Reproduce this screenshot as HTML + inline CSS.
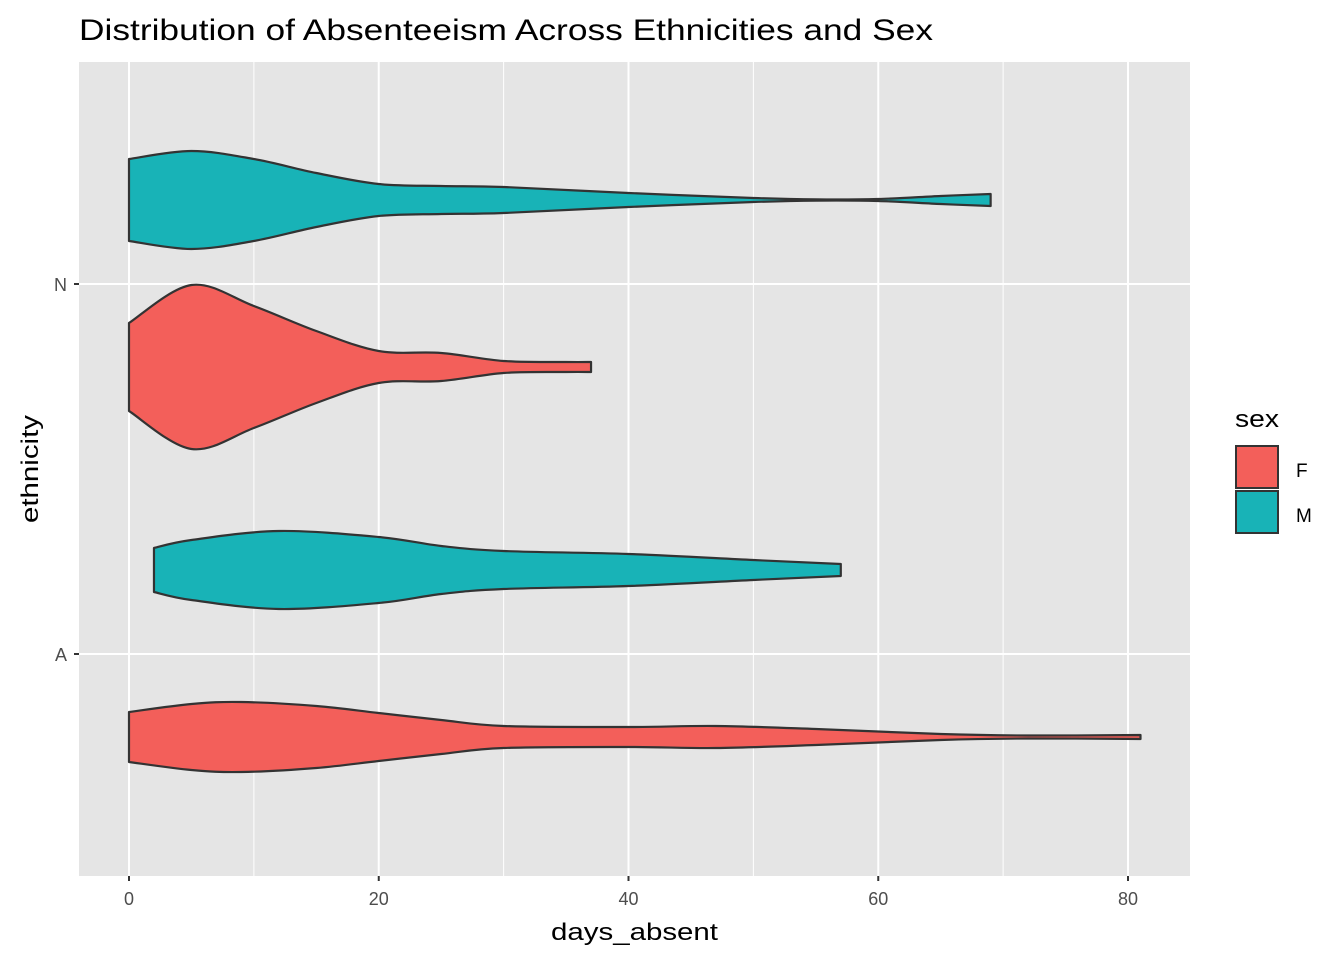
<!DOCTYPE html>
<html><head><meta charset="utf-8"><style>
body{margin:0;background:#fff;}
svg text{font-family:"Liberation Sans",Arial,sans-serif;}
</style></head><body>
<svg id="chart" width="1344" height="960" xmlns="http://www.w3.org/2000/svg">
<text x="79" y="40" font-size="30" textLength="854" lengthAdjust="spacingAndGlyphs" fill="#000">Distribution of Absenteeism Across Ethnicities and Sex</text>
<rect x="79" y="62" width="1111" height="814" fill="#e5e5e5"/>
<g id="grid"></g>
<g id="violins"></g>
<g id="axes"></g>
<text x="551" y="940" font-size="24" textLength="167" lengthAdjust="spacingAndGlyphs" fill="#000">days_absent</text>
<text transform="translate(38,523) rotate(-90)" font-size="24" textLength="108" lengthAdjust="spacingAndGlyphs" fill="#000">ethnicity</text>
<g>
<text x="1235" y="427" font-size="24" textLength="44" lengthAdjust="spacingAndGlyphs" fill="#000">sex</text>
<rect x="1236" y="446" width="42" height="42" fill="#f35f5a" stroke="#333" stroke-width="2"/>
<rect x="1236" y="491" width="42" height="42" fill="#18b3b7" stroke="#333" stroke-width="2"/>
<text x="1296" y="477" font-size="19" fill="#000">F</text>
<text x="1296" y="522" font-size="19" fill="#000">M</text>
</g>
</svg>
<script>
const xTicks=[0,20,40,60,80];
const xMinor=[10,30,50,70];
const categories=['A','N'];
const groups=[
 {cat:'N',sex:'M',days:[0,5,10,15,20,25,30,40,50,55,60,65,69],hw:[41,49,41,27,16,14,13,7,2,0.6,1,4,6]},
 {cat:'N',sex:'F',days:[0,5,10,15,20,25,30,35,37],hw:[44,82,61,36,16,14,6,5,5]},
 {cat:'A',sex:'M',days:[2,5,12,20,25,30,40,50,57],hw:[22,30,39,33,24,19,16,10,6]},
 {cat:'A',sex:'F',days:[0,5,9,15,20,25,30,40,47,55,65,72,81],hw:[25,33,35,31,24,17,11,10,11,8,3,1.5,2]}
];
const X=d=>129+d*(1128-129)/80;
const Y=c=>({A:654,N:284})[c];
const NS='http://www.w3.org/2000/svg';
function mk(t,a,p){const e=document.createElementNS(NS,t);for(const k in a)e.setAttribute(k,a[k]);p.appendChild(e);return e;}
const grid=document.getElementById('grid'),axes=document.getElementById('axes'),vg=document.getElementById('violins');
xMinor.forEach(v=>{const l=mk('line',{x1:X(v),x2:X(v),y1:62,y2:876,stroke:'#fff','stroke-width':1},grid);

});
xTicks.forEach(v=>{const l=mk('line',{x1:X(v),x2:X(v),y1:62,y2:876,stroke:'#fff','stroke-width':2},grid);


const t=mk('line',{x1:X(v),x2:X(v),y1:876,y2:881,stroke:'#333','stroke-width':2},axes);


const tx=mk('text',{x:X(v),y:905,'font-size':18,'text-anchor':'middle',fill:'#4d4d4d'},axes);tx.textContent=v;

});
categories.forEach(c=>{const l=mk('line',{x1:79,x2:1190,y1:Y(c),y2:Y(c),stroke:'#fff','stroke-width':2},grid);


const t=mk('line',{x1:74,x2:79,y1:Y(c),y2:Y(c),stroke:'#333','stroke-width':2},axes);


const tx=mk('text',{x:67,y:Y(c)+7,'font-size':18,'text-anchor':'end',fill:'#4d4d4d'},axes);tx.textContent=c;

});
function smooth(pts){let d='';for(let i=0;i<pts.length-1;i++){const p0=pts[i-1]||pts[i],p1=pts[i],p2=pts[i+1],p3=pts[i+2]||p2;
const c1=[p1[0]+(p2[0]-p0[0])/6,p1[1]+(p2[1]-p0[1])/6],c2=[p2[0]-(p3[0]-p1[0])/6,p2[1]-(p3[1]-p1[1])/6];
d+=` C${c1[0]},${c1[1]} ${c2[0]},${c2[1]} ${p2[0]},${p2[1]}`;}return d;}
groups.forEach(g=>{const cy=Y(g.cat)+(g.sex==='M'?-84:83);
const top=g.days.map((d,i)=>[X(d),cy-g.hw[i]]);
const bot=g.days.map((d,i)=>[X(d),cy+g.hw[i]]).reverse();
let d=`M${top[0][0]},${top[0][1]}`+smooth(top)+` L${bot[0][0]},${bot[0][1]}`+smooth(bot)+' Z';
const p=mk('path',{d:d,fill:g.sex==='M'?'#18b3b7':'#f35f5a',stroke:'#333','stroke-width':2.2,'stroke-linejoin':'round'},vg);

});
</script>
</body></html>
